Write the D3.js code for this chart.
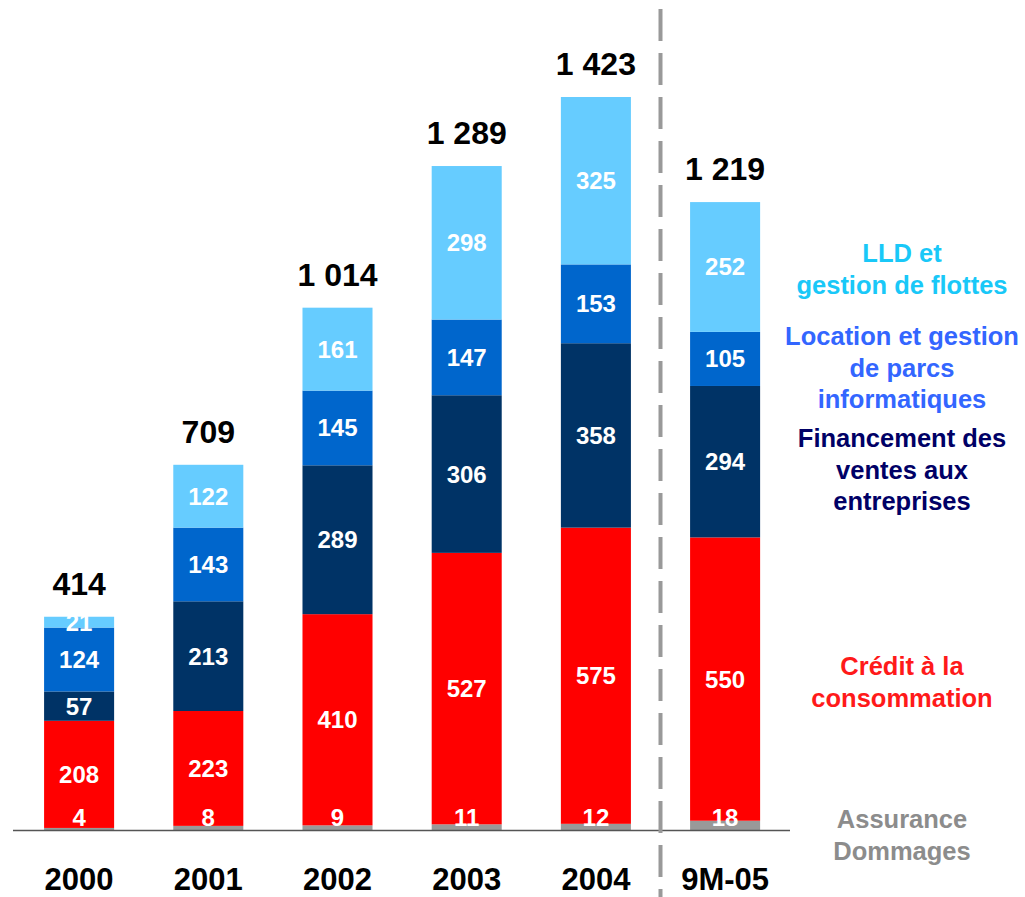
<html>
<head>
  <style>
    body { margin: 0px; padding: 0px; background-color: white; }
    svg { display: block; }
    text { font-family: "Liberation Sans", Arial, sans-serif; font-weight: bold; }
  </style>
</head>
<body>
  <div id="chart"></div>
  <script src="https://cdnjs.cloudflare.com/ajax/libs/d3/7.8.5/d3.min.js"></script>
  <script>
    // data
    var years = ['2000', '2001', '2002', '2003', '2004', '9M-05'];
    var assuranceVals = [4, 8, 9, 11, 12, 18];
    var creditVals = [208, 223, 410, 527, 575, 550];
    var financementVals = [57, 213, 289, 306, 358, 294];
    var locationVals = [124, 143, 145, 147, 153, 105];
    var lldVals = [21, 122, 161, 298, 325, 252];

    var seriesKeys = ['assurance', 'credit', 'financement', 'location', 'lld'];
    var barColors = {
      assurance: '#999999', credit: '#ff0000', financement: '#003366',
      location: '#0066cc', lld: '#66ccff'
    };
    var legendLines = {
      lld: ['LLD et', 'gestion de flottes'],
      location: ['Location et gestion', 'de parcs', 'informatiques'],
      financement: ['Financement des', 'ventes aux', 'entreprises'],
      credit: ['Crédit à la', 'consommation'],
      assurance: ['Assurance', 'Dommages']
    };
    var legendColors = {
      lld: '#19c8f8', location: '#3366ff', financement: '#000066',
      credit: '#ff1a1a', assurance: '#8c8c8c'
    };
    var legendTop = { lld: 262, location: 345, financement: 447, credit: 675, assurance: 828 };

    var rows = years.map(function(y, i) {
      return { year: y, assurance: assuranceVals[i], credit: creditVals[i],
        financement: financementVals[i], location: locationVals[i], lld: lldVals[i] };
    });

    var width = 1025, height = 897, baseY = 830;

    var svg = d3.select('#chart').append('svg')
      .attr('width', width)
      .attr('height', height);

    var x = d3.scaleBand()
      .domain(years)
      .range([14.5, 14.5 + 6 * 129.2])
      .paddingInner(0.458)
      .paddingOuter(0.229);

    var y = d3.scaleLinear()
      .domain([0, 1423])
      .range([baseY, 97]);

    var stack = d3.stack().keys(seriesKeys)(rows);

    var layers = svg.selectAll('g.layer')
      .data(stack)
      .enter()
      .append('g')
      .attr('class', 'layer')
      .attr('fill', function(d) { return barColors[d.key]; });

    layers.selectAll('rect')
      .data(function(d) { return d; })
      .enter()
      .append('rect')
      .attr('x', function(d) { return x(d.data.year); })
      .attr('y', function(d) { return y(d[1]); })
      .attr('width', x.bandwidth())
      .attr('height', function(d) { return y(d[0]) - y(d[1]); });

    // value labels inside segments
    stack.forEach(function(layer) {
      svg.selectAll('text.v-' + layer.key)
        .data(layer)
        .enter()
        .append('text')
        .attr('class', 'v-' + layer.key)
        .attr('x', function(d) { return x(d.data.year) + x.bandwidth() / 2; })
        .attr('y', function(d) {
          if (layer.key == 'assurance') return baseY - 4;
          return (y(d[0]) + y(d[1])) / 2 + 8.5;
        })
        .attr('text-anchor', 'middle')
        .attr('fill', 'white')
        .attr('font-size', '24px')
        .text(function(d) { return d[1] - d[0]; });
    });

    // totals above bars
    var fmt = function(v) { return d3.format(',')(v).replace(',', ' '); };
    svg.selectAll('text.total')
      .data(rows)
      .enter()
      .append('text')
      .attr('class', 'total')
      .attr('x', function(d) { return x(d.year) + x.bandwidth() / 2; })
      .attr('y', function(d) {
        var t = d3.sum(seriesKeys, function(k) { return d[k]; });
        return y(t) - 22;
      })
      .attr('text-anchor', 'middle')
      .attr('fill', 'black')
      .attr('font-size', '32px')
      .text(function(d) { return fmt(d3.sum(seriesKeys, function(k) { return d[k]; })); });

    // baseline
    svg.append('line')
      .attr('x1', 13).attr('x2', 790)
      .attr('y1', baseY + 0.5).attr('y2', baseY + 0.5)
      .attr('stroke', '#555555')
      .attr('stroke-width', 1.5);

    // year labels
    svg.selectAll('text.year')
      .data(years)
      .enter()
      .append('text')
      .attr('class', 'year')
      .attr('x', function(d) { return x(d) + x.bandwidth() / 2; })
      .attr('y', 890)
      .attr('text-anchor', 'middle')
      .attr('fill', 'black')
      .attr('font-size', '31px')
      .text(function(d) { return d; });

    // dashed separator
    var sepX = (x('2004') + x.bandwidth() + x('9M-05')) / 2;
    svg.append('line')
      .attr('x1', sepX).attr('x2', sepX)
      .attr('y1', 9).attr('y2', height)
      .attr('stroke', '#999999')
      .attr('stroke-width', 4)
      .attr('stroke-dasharray', '32,12');

    // legend labels on the right
    seriesKeys.forEach(function(k) {
      var t = svg.append('text')
        .attr('x', 902)
        .attr('y', legendTop[k])
        .attr('text-anchor', 'middle')
        .attr('fill', legendColors[k])
        .attr('font-size', '25.5px');
      t.selectAll('tspan')
        .data(legendLines[k])
        .enter()
        .append('tspan')
        .attr('x', 902)
        .attr('dy', function(d, i) { return i == 0 ? 0 : 31.5; })
        .text(function(d) { return d; });
    });
  </script>
</body>
</html>
